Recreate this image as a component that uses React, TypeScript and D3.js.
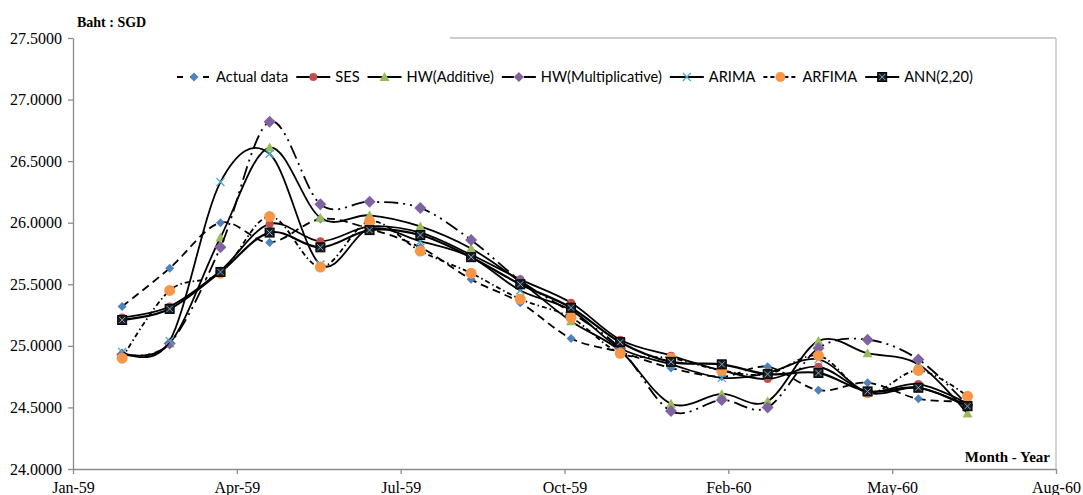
import React, { useEffect, useRef } from "react";
import * as d3 from "d3";

// monthly observations (month end), Thai year 2559-2560
const months = [
  "2016-01-31", "2016-02-29", "2016-03-31", "2016-04-30", "2016-05-31", "2016-06-30",
  "2016-07-31", "2016-08-31", "2016-09-30", "2016-10-31", "2016-11-30", "2016-12-31",
  "2017-01-31", "2017-02-28", "2017-03-31", "2017-04-30", "2017-05-31", "2017-06-30",
];

const actualData = [25.32, 25.63, 26.0, 25.84, 26.03, 25.95, 25.8, 25.54, 25.35, 25.06, 24.95, 24.82, 24.75, 24.83, 24.64, 24.7, 24.57, 24.55];
const ses = [25.23, 25.32, 25.61, 25.99, 25.85, 25.97, 25.92, 25.74, 25.54, 25.35, 25.05, 24.92, 24.8, 24.73, 24.83, 24.63, 24.69, 24.53];
const hwAdditive = [24.94, 25.02, 25.88, 26.61, 26.04, 26.06, 25.97, 25.79, 25.52, 25.2, 24.96, 24.53, 24.61, 24.55, 25.04, 24.94, 24.85, 24.45];
const hwMultiplicative = [24.93, 25.02, 25.8, 26.82, 26.15, 26.17, 26.12, 25.86, 25.53, 25.27, 24.98, 24.47, 24.56, 24.5, 24.98, 25.05, 24.89, 24.52];
const arima = [24.95, 25.04, 26.33, 26.56, 25.66, 25.95, 25.85, 25.72, 25.45, 25.29, 24.98, 24.85, 24.74, 24.78, 24.89, 24.62, 24.66, 24.51];
const arfima = [24.9, 25.45, 25.59, 26.05, 25.64, 26.01, 25.77, 25.59, 25.38, 25.23, 24.94, 24.9, 24.8, 24.77, 24.92, 24.62, 24.8, 24.59];
const ann = [25.21, 25.3, 25.6, 25.92, 25.8, 25.94, 25.9, 25.72, 25.5, 25.31, 25.03, 24.87, 24.85, 24.77, 24.78, 24.63, 24.66, 24.51];

const xTickLabels = ["Jan-59", "Apr-59", "Jul-59", "Oct-59", "Feb-60", "May-60", "Aug-60"];
const yTicks = [24, 24.5, 25, 25.5, 26, 26.5, 27, 27.5];

const series = [
  { name: "Actual data", values: actualData, dash: "8,5", legendDash: "6,7", marker: "diamond", color: "#4F81BD", size: 4.5 },
  { name: "SES", values: ses, dash: null, legendDash: null, marker: "circle", color: "#C0504D", size: 4 },
  { name: "HW(Additive)", values: hwAdditive, dash: null, legendDash: null, marker: "triangle", color: "#9BBB59", size: 5 },
  { name: "HW(Multiplicative)", values: hwMultiplicative, dash: "14,5,2,5,2,5", legendDash: "12,4,2,4", marker: "diamond", color: "#8064A2", size: 6 },
  { name: "ARIMA", values: arima, dash: null, legendDash: null, marker: "x", color: "#4BACC6", size: 4 },
  { name: "ARFIMA", values: arfima, dash: "5,3,1.5,3", legendDash: "4,3", marker: "circle", color: "#F79646", size: 5.5 },
  { name: "ANN(2,20)", values: ann, dash: null, legendDash: null, marker: "boxx", color: "#1c1c1c", size: 4.5 },
];

function drawMarker(g, type, cx, cy, color, s) {
  if (type === "diamond") {
    g.append("path")
      .attr("d", `M${cx},${cy - s}L${cx + s},${cy}L${cx},${cy + s}L${cx - s},${cy}Z`)
      .attr("fill", color);
  } else if (type === "circle") {
    g.append("circle").attr("cx", cx).attr("cy", cy).attr("r", s).attr("fill", color);
  } else if (type === "triangle") {
    g.append("path")
      .attr("d", `M${cx},${cy - s}L${cx + s},${cy + s * 0.8}L${cx - s},${cy + s * 0.8}Z`)
      .attr("fill", color);
  } else if (type === "x") {
    g.append("path")
      .attr("d", `M${cx - s},${cy - s}L${cx + s},${cy + s}M${cx - s},${cy + s}L${cx + s},${cy - s}`)
      .attr("stroke", color)
      .attr("stroke-width", 1.3)
      .attr("fill", "none");
  } else if (type === "boxx") {
    g.append("rect")
      .attr("x", cx - s)
      .attr("y", cy - s)
      .attr("width", s * 2)
      .attr("height", s * 2)
      .attr("fill", color)
      .attr("stroke", "#000")
      .attr("stroke-width", 1);
    g.append("path")
      .attr("d", `M${cx - s + 1.5},${cy - s + 1.5}L${cx + s - 1.5},${cy + s - 1.5}M${cx - s + 1.5},${cy + s - 1.5}L${cx + s - 1.5},${cy - s + 1.5}`)
      .attr("stroke", "#7fa7d6")
      .attr("stroke-width", 1);
  }
}

function App() {
  const ref = useRef(null);

  useEffect(() => {
    const svg = d3.select(ref.current);
    svg.selectAll("*").remove();

    const left = 73;
    const right = 1056;
    const top = 38;
    const bottom = 469;

    const start = new Date(Date.UTC(2016, 0, 1));
    const x = d3.scaleUtc().domain([start, d3.utcDay.offset(start, 600)]).range([left, right]);
    const y = d3.scaleLinear().domain([24, 27.5]).range([bottom, top]);
    const dates = months.map((m) => new Date(m + "T00:00:00Z"));
    const xTicks = xTickLabels.map((_, i) => d3.utcDay.offset(start, 100 * i));

    const axisColor = "#8c8c8c";

    // plot frame (right + partial top)
    svg.append("line").attr("x1", right).attr("x2", right).attr("y1", top).attr("y2", bottom)
      .attr("stroke", "#bdbdbd").attr("stroke-width", 1.3);
    svg.append("line").attr("x1", 450).attr("x2", right).attr("y1", top).attr("y2", top)
      .attr("stroke", "#bdbdbd").attr("stroke-width", 1.3);

    const yAxis = svg.append("g")
      .attr("transform", `translate(${left},0)`)
      .call(d3.axisLeft(y).tickValues(yTicks).tickFormat(d3.format(".4f")).tickSize(5).tickSizeOuter(0).tickPadding(6));
    yAxis.selectAll("text").attr("font-family", "Liberation Serif").attr("font-size", 16).attr("fill", "#000");

    const xAxis = svg.append("g")
      .attr("transform", `translate(0,${bottom})`)
      .call(d3.axisBottom(x).tickValues(xTicks).tickFormat((_, i) => xTickLabels[i]).tickSize(5).tickSizeOuter(0).tickPadding(8));
    xAxis.selectAll("text").attr("font-family", "Liberation Serif").attr("font-size", 16).attr("fill", "#000");

    [yAxis, xAxis].forEach((a) => {
      a.select(".domain").attr("stroke", axisColor).attr("stroke-width", 1.3);
      a.selectAll(".tick line").attr("stroke", axisColor).attr("stroke-width", 1.3);
    });

    svg.append("text").attr("x", 77).attr("y", 27).text("Baht : SGD")
      .attr("font-family", "Liberation Serif").attr("font-weight", "bold").attr("font-size", 14);
    svg.append("text").attr("x", 1050).attr("y", 462).attr("text-anchor", "end").text("Month - Year")
      .attr("font-family", "Liberation Serif").attr("font-weight", "bold").attr("font-size", 15);

    const line = d3.line()
      .x((_, i) => x(dates[i]))
      .y((d) => y(d))
      .curve(d3.curveCardinal.tension(0));

    series.forEach((s) => {
      const g = svg.append("g");
      g.append("path")
        .attr("d", line(s.values))
        .attr("fill", "none")
        .attr("stroke", "#000")
        .attr("stroke-width", s.name === "ANN(2,20)" ? 2.2 : 1.8)
        .attr("stroke-dasharray", s.dash);
      s.values.forEach((v, i) => drawMarker(g, s.marker, x(dates[i]), y(v), s.color, s.size));
    });

    // legend
    const legend = svg.append("g").attr("transform", "translate(0,77)");
    let cx = 177;
    series.forEach((s) => {
      const item = legend.append("g");
      item.append("line")
        .attr("x1", cx).attr("x2", cx + 34).attr("y1", 0).attr("y2", 0)
        .attr("stroke", "#000").attr("stroke-width", 2)
        .attr("stroke-dasharray", s.legendDash);
      drawMarker(item, s.marker, cx + 17, 0, s.color, Math.min(s.size, 5));
      const t = item.append("text")
        .attr("x", cx + 39).attr("y", 0).attr("dy", "0.35em")
        .attr("font-family", "Lato").attr("font-size", 14.6).attr("fill", "#000")
        .text(s.name);
      const w = t.node().getComputedTextLength();
      cx += 39 + w + 8;
    });
  }, []);

  return (
    <svg
      ref={ref}
      width={1083}
      height={495}
      style={{ position: "absolute", left: 0, top: 0, background: "#fff" }}
    />
  );
}

export default App;
